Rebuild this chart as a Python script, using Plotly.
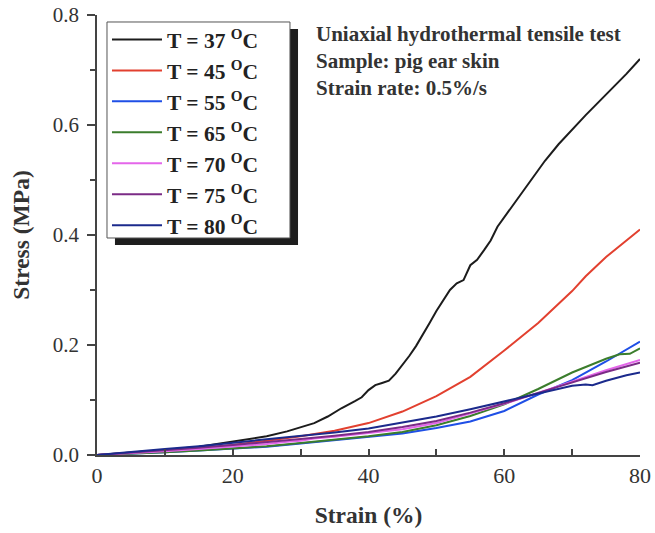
import plotly.graph_objects as go

# Stress-strain curves of pig ear skin at several bath temperatures
temps = [37, 45, 55, 65, 70, 75, 80]
colors = ["#1c1c1c", "#e2402f", "#1f4fe6", "#3b7d2c", "#e466ea", "#7b2b86", "#1b2a8c"]

strain_37 = [0, 5, 10, 15, 20, 25, 28, 30, 32, 34, 36, 38, 39, 40, 41, 42, 43, 44, 45, 46,
             47, 48, 49, 50, 51, 52, 53, 54, 55, 56, 57, 58, 59, 60, 62, 64, 66, 68, 70,
             72, 74, 76, 78, 80]
stress_37 = [0, 0.004, 0.009, 0.015, 0.024, 0.034, 0.043, 0.050, 0.058, 0.070, 0.085, 0.098,
             0.105, 0.118, 0.127, 0.131, 0.135, 0.148, 0.163, 0.180, 0.198, 0.218, 0.240,
             0.262, 0.280, 0.300, 0.312, 0.318, 0.345, 0.355, 0.372, 0.390, 0.415, 0.432,
             0.468, 0.502, 0.535, 0.565, 0.592, 0.618, 0.643, 0.668, 0.693, 0.720]

strain_45 = [0, 5, 10, 15, 20, 25, 30, 35, 40, 45, 50, 55, 60, 65, 68, 70, 72, 75, 78, 80]
stress_45 = [0, 0.003, 0.007, 0.012, 0.018, 0.026, 0.034, 0.044, 0.058, 0.079, 0.107, 0.142,
             0.190, 0.240, 0.275, 0.298, 0.325, 0.360, 0.390, 0.410]

strain_55 = [0, 5, 10, 15, 20, 25, 30, 35, 40, 45, 50, 55, 60, 65, 70, 75, 80]
stress_55 = [0, 0.002, 0.005, 0.008, 0.011, 0.015, 0.021, 0.027, 0.033, 0.039, 0.049, 0.061,
             0.080, 0.110, 0.136, 0.170, 0.206]

strain_65 = [0, 5, 10, 15, 20, 25, 30, 35, 40, 45, 50, 55, 60, 65, 70, 75, 77, 78.5, 80]
stress_65 = [0, 0.002, 0.005, 0.008, 0.012, 0.016, 0.022, 0.028, 0.034, 0.042, 0.054, 0.071,
             0.092, 0.120, 0.150, 0.175, 0.183, 0.184, 0.194]

strain_70 = [0, 5, 10, 15, 20, 25, 28, 30, 32, 35, 40, 45, 50, 55, 60, 65, 70, 75, 80]
stress_70 = [0, 0.003, 0.007, 0.011, 0.015, 0.020, 0.024, 0.026, 0.030, 0.033, 0.040, 0.047,
             0.058, 0.075, 0.093, 0.113, 0.134, 0.154, 0.173]

strain_75 = [0, 5, 10, 15, 20, 25, 30, 35, 40, 45, 50, 55, 60, 65, 70, 75, 80]
stress_75 = [0, 0.004, 0.009, 0.013, 0.018, 0.023, 0.029, 0.035, 0.042, 0.051, 0.062, 0.077,
             0.094, 0.113, 0.132, 0.151, 0.168]

strain_80 = [0, 5, 10, 15, 20, 25, 30, 35, 40, 45, 50, 55, 60, 65, 68, 70, 72, 73, 75, 78, 80]
stress_80 = [0, 0.006, 0.011, 0.016, 0.022, 0.028, 0.034, 0.041, 0.048, 0.059, 0.070, 0.083,
             0.097, 0.112, 0.120, 0.126, 0.128, 0.127, 0.135, 0.145, 0.150]

strains = [strain_37, strain_45, strain_55, strain_65, strain_70, strain_75, strain_80]
stresses = [stress_37, stress_45, stress_55, stress_65, stress_70, stress_75, stress_80]

x_ticks = [0, 20, 40, 60, 80]
y_ticks = [0.0, 0.2, 0.4, 0.6, 0.8]
y_tick_text = ["0.0", "0.2", "0.4", "0.6", "0.8"]

info_lines = ["Uniaxial hydrothermal tensile test", "Sample: pig ear skin", "Strain rate: 0.5%/s"]

serif = "Liberation Serif"

fig = go.Figure()
for t, c, xs, ys in zip(temps, colors, strains, stresses):
    fig.add_trace(go.Scatter(
        x=xs, y=ys, mode="lines", name=f"T = {t} <sup>O</sup>C",
        legendgroup=str(t),
        line=dict(color=c, width=2),
    ))

# Legend frame: dark drop shadow, then white box with a thin border
fig.add_shape(type="rect", xref="paper", yref="paper",
              x0=0.0331, x1=0.3702, y0=0.477, y1=0.968,
              fillcolor="#1e1e1e", line=dict(width=0), layer="above")
fig.add_shape(type="rect", xref="paper", yref="paper",
              x0=0.0184, x1=0.3554, y0=0.4932, y1=0.9841,
              fillcolor="white", line=dict(color="#555555", width=1), layer="above")

for i, txt in enumerate(info_lines):
    fig.add_annotation(
        x=0.400, y=0.988 - i * 0.061, xref="paper", yref="paper",
        xanchor="left", yanchor="top", showarrow=False, align="left",
        text=txt, font=dict(family=serif, size=21, color="#333333", weight="bold"),
    )

fig.update_layout(
    width=655, height=533,
    margin=dict(l=97, r=15, t=15, b=78, autoexpand=False),
    paper_bgcolor="white", plot_bgcolor="white",
    showlegend=True,
    legend=dict(
        x=0.0184, y=0.991, xanchor="left", yanchor="top",
        bgcolor="rgba(0,0,0,0)", borderwidth=0,
        font=dict(family=serif, size=21.5, color="#222222", weight="bold"),
        traceorder="grouped", tracegroupgap=0, itemwidth=50,
    ),
    xaxis=dict(
        range=[0, 80], tickvals=x_ticks, showgrid=False, zeroline=False,
        automargin=False,
        showline=True, linecolor="#444444", linewidth=1.5,
        ticks="inside", ticklen=6, tickwidth=1.5, tickcolor="#444444",
        minor=dict(dtick=10, ticks="inside", ticklen=6, tickwidth=1.5, tickcolor="#444444"),
        tickfont=dict(family=serif, size=22, color="#333333"),
        title=dict(text="Strain (%)", standoff=19,
                   font=dict(family=serif, size=23.5, color="#333333", weight="bold")),
    ),
    yaxis=dict(
        range=[0, 0.8], tickvals=y_ticks, ticktext=y_tick_text, showgrid=False, zeroline=False,
        automargin=False,
        showline=True, linecolor="#444444", linewidth=1.5,
        ticks="outside", ticklen=8, tickwidth=1.5, tickcolor="#444444",
        ticklabelstandoff=4,
        minor=dict(dtick=0.1, ticks="outside", ticklen=5, tickwidth=1.5, tickcolor="#444444"),
        tickfont=dict(family=serif, size=21, color="#333333"),
        title=dict(text="Stress (MPa)", standoff=17,
                   font=dict(family=serif, size=23.5, color="#333333", weight="bold")),
    ),
)

fig.write_html("out.html")
